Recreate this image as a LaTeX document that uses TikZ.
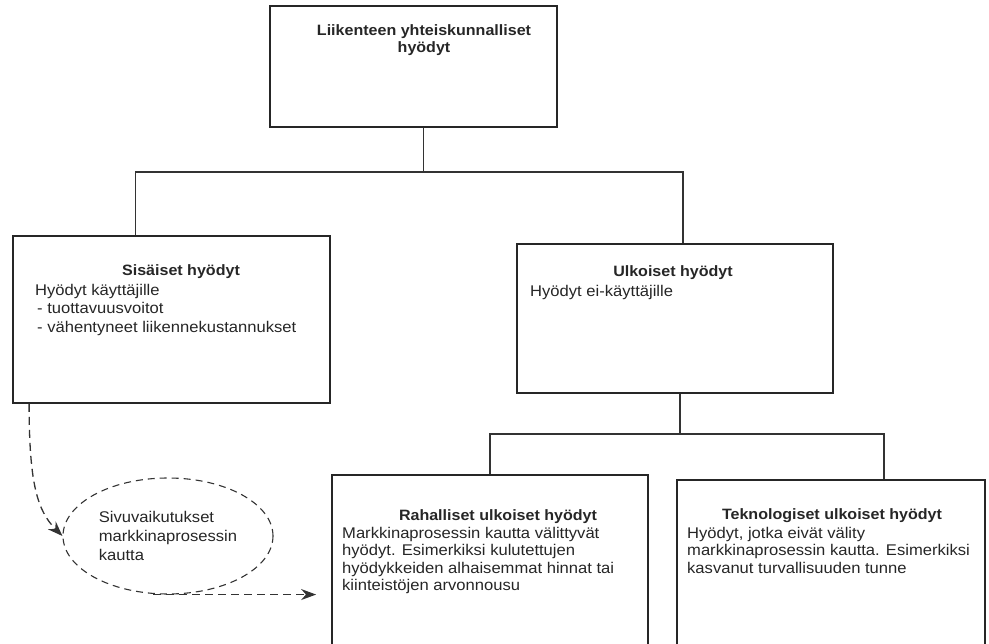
\documentclass[tikz,border=0pt]{standalone}
\usepackage{fontspec}
\setmainfont[FakeStretch=1.07]{Liberation Sans}
\usetikzlibrary{arrows.meta,calc,positioning,shapes.geometric}
\tikzset{box/.style={draw=black!85,line width=1.8pt,inner sep=0pt},
  ttl/.style={font=\fontsize{15}{17.5}\selectfont\bfseries,inner sep=0pt,text=black!85},
  txt/.style={align=left,anchor=north west,inner sep=0pt,text=black!85},
  link/.style={draw=black!80,line width=1.1pt},
  dsh/.style={draw=black!80,line width=1.3pt,dash pattern=on 8pt off 5pt,-{Stealth[length=15pt,width=11pt]}}}

\begin{document}
\begin{tikzpicture}[x=1pt,y=-1pt,font=\fontsize{15.5}{17.5}\selectfont]
\useasboundingbox (0,0) rectangle (989,644);
% boxes
\node[box,minimum width=287,minimum height=121] (top) at (413.5,66.5) {};
\node[box,minimum width=317,minimum height=167] (inner) at (171.5,319.5) {};
\node[box,minimum width=316,minimum height=149] (outer) at (675,318.5) {};
\node[box,minimum width=316,minimum height=170] (money) at (490,560) {};
\node[box,minimum width=308,minimum height=172] (tech) at (831,566) {};
% texts
\node[ttl,align=center] (topT) at (424,40) {Liikenteen yhteiskunnalliset\\hyödyt};
\node[ttl] (innerT) at (181,272) {Sisäiset hyödyt};
\node[txt,font=\fontsize{15.5}{18.5}\selectfont] (innerB) at (35,284) {Hyödyt käyttäjille\\\hspace{2pt}- tuottavuusvoitot\\\hspace{2pt}- vähentyneet liikennekustannukset};
\node[ttl] (outerT) at (673,273) {Ulkoiset hyödyt};
\node[txt] (outerB) at (530,285) {Hyödyt ei-käyttäjille};
\node[ttl] (moneyT) at (498,517) {Rahalliset ulkoiset hyödyt};
\node[txt] (moneyB) at (342,527) {Markkinaprosessin kautta välittyvät\\hyödyt. Esimerkiksi kulutettujen\\hyödykkeiden alhaisemmat hinnat tai\\kiinteistöjen arvonnousu};
\node[ttl] (techT) at (832,516) {Teknologiset ulkoiset hyödyt};
\node[txt] (techB) at (687,527) {Hyödyt, jotka eivät välity\\markkinaprosessin kautta. Esimerkiksi\\kasvanut turvallisuuden tunne};
\node[ellipse,draw=black!80,line width=1.1pt,dash pattern=on 7pt off 5pt,minimum width=210,minimum height=116,
  align=left,text=black!85,font=\fontsize{15.5}{19}\selectfont] (side) at (168,536) {Sivuvaikutukset\\markkinaprosessin\\kautta};
% tree lines
\coordinate (bus) at (0,172);
\coordinate (bus2) at (0,434);
\draw[link] ([xshift=10]top.south) -- ([xshift=10]top.south |- bus);
\draw[link] ([xshift=-36]inner.north) |- ([xshift=8]outer.north |- bus) -- ([xshift=8]outer.north);
\draw[link] ([xshift=5]outer.south) -- ([xshift=5]outer.south |- bus2);
\draw[link] (money.north) |- ([xshift=53]tech.north |- bus2) -- ([xshift=53]tech.north);
% side effects
\draw[dsh] ([xshift=17]inner.south west) .. controls +(0,80) and +(-25,-25) .. (side.west);
\draw[dsh] ([xshift=-15]side.south) -- ([xshift=-15]side.south -| money.west);
\end{tikzpicture}
\end{document}
